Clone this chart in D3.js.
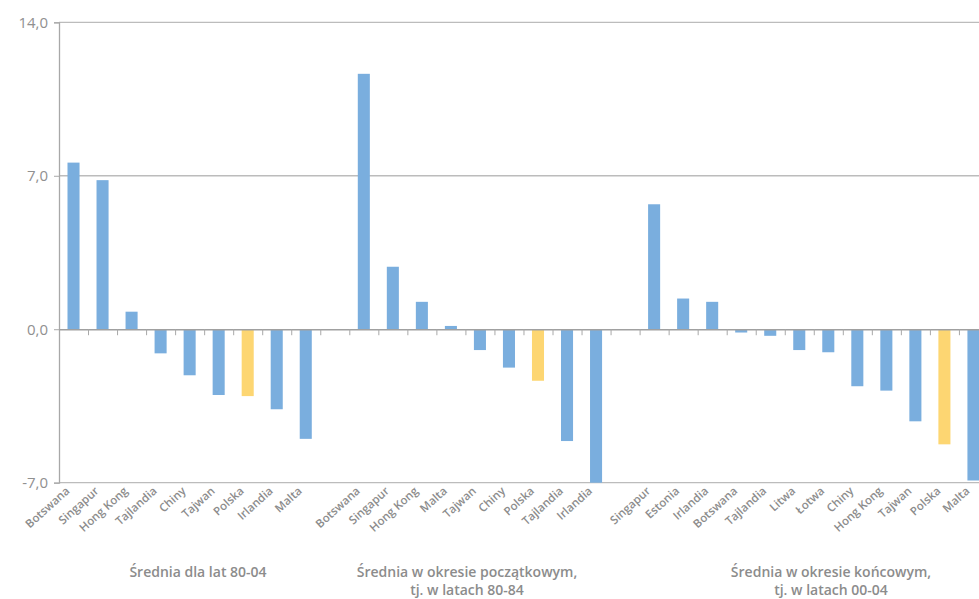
<!DOCTYPE html>
<html>
<head>
<meta charset="utf-8">
<script src="https://cdn.jsdelivr.net/npm/d3@7"></script>
<style>
    body { margin: 0; background: #fff; }
    text { font-family: "Open Sans", sans-serif; fill: #8c8c8c; }
</style>
</head>
<body>
<svg id="root" width="979" height="599"></svg>
<script>
// Średnia dla lat 80-04
const countriesAll = ["Botswana", "Singapur", "Hong Kong", "Tajlandia", "Chiny", "Tajwan", "Polska", "Irlandia", "Malta"];
const valuesAll = [7.6, 6.8, 0.8, -1.1, -2.1, -3.0, -3.05, -3.65, -5.0];

// Średnia w okresie początkowym (80-84)
const countriesStart = ["Botswana", "Singapur", "Hong Kong", "Malta", "Tajwan", "Chiny", "Polska", "Tajlandia", "Irlandia"];
const valuesStart = [11.65, 2.85, 1.25, 0.15, -0.95, -1.75, -2.35, -5.1, -7.0];

// Średnia w okresie końcowym (00-04)
const countriesEnd = ["Singapur", "Estonia", "Irlandia", "Botswana", "Tajlandia", "Litwa", "Łotwa", "Chiny", "Hong Kong", "Tajwan", "Polska", "Malta"];
const valuesEnd = [5.7, 1.4, 1.25, -0.15, -0.3, -0.95, -1.05, -2.6, -2.8, -4.2, -5.25, -6.9];

const groupTitles = [
    ["Średnia dla lat 80-04"],
    ["Średnia w okresie początkowym,", "tj. w latach 80-84"],
    ["Średnia w okresie końcowym,", "tj. w latach 00-04"],
];

const yTicks = [14, 7, 0, -7];
const highlight = "Polska";

const main = () => {
    const svg = d3.select("#root");

    const groups = [
        { countries: countriesAll, values: valuesAll },
        { countries: countriesStart, values: valuesStart },
        { countries: countriesEnd, values: valuesEnd },
    ];

    // flatten into slots, one empty slot between groups
    const data = [];
    const slotIds = [];
    groups.forEach((g, gi) => {
        g.countries.forEach((c, i) => {
            const id = gi + "-" + i;
            slotIds.push(id);
            data.push({ id, group: gi, name: c, value: g.values[i] });
        });
        if (gi < groups.length - 1) slotIds.push("gap" + gi);
    });

    const left = 59;
    const step = 29.03;
    const right = left + step * slotIds.length;

    const x = d3.scaleBand()
        .domain(slotIds)
        .range([left, right])
        .paddingInner(0.585)
        .paddingOuter(0.2925);

    const y = d3.scaleLinear()
        .domain([-7, 14])
        .range([482.7, 22.3]);

    // grid
    svg.append("g")
        .selectAll("line")
        .data(yTicks.filter((d) => d !== 0))
        .join("line")
        .attr("x1", left)
        .attr("x2", 979)
        .attr("y1", (d) => y(d))
        .attr("y2", (d) => y(d))
        .attr("stroke", "#bcbcbc")
        .attr("stroke-width", 1.3);

    // y axis
    const yAxis = d3.axisLeft(y)
        .tickValues(yTicks)
        .tickSize(5)
        .tickPadding(6)
        .tickFormat((d) => d3.format(".1f")(d).replace(".", ",").replace("−", "-"));

    svg.append("g")
        .attr("transform", `translate(${left},0)`)
        .call(yAxis)
        .call((g) => g.select(".domain").attr("stroke", "#a8a8a8").attr("stroke-width", 1.3))
        .call((g) => g.selectAll(".tick line").attr("stroke", "#a8a8a8"))
        .call((g) => g.selectAll("text")
            .attr("fill", null)
            .style("fill", "#909090")
            .style("font-size", "15px")
            .style("font-family", "'Open Sans', sans-serif"));

    // bars
    svg.append("g")
        .selectAll("rect")
        .data(data)
        .join("rect")
        .attr("x", (d) => x(d.id))
        .attr("width", x.bandwidth())
        .attr("y", (d) => y(Math.max(0, d.value)))
        .attr("height", (d) => Math.abs(y(d.value) - y(0)))
        .attr("fill", (d) => d.name === highlight ? "#fdd672" : "#7aaede");

    // zero line with ticks between categories
    const slotScale = d3.scaleLinear()
        .domain([0, slotIds.length])
        .range([left, right]);
    const zeroAxis = d3.axisBottom(slotScale)
        .tickValues(d3.range(1, slotIds.length))
        .tickSize(6)
        .tickSizeOuter(0)
        .tickFormat("");

    svg.append("g")
        .attr("transform", `translate(0,${y(0)})`)
        .call(zeroAxis)
        .call((g) => g.select(".domain").attr("stroke", "#a0a0a0").attr("stroke-width", 1.4))
        .call((g) => g.selectAll(".tick line").attr("stroke", "#a8a8a8"));

    // category labels
    svg.append("g")
        .selectAll("text")
        .data(data)
        .join("text")
        .attr("transform", (d) => `translate(${x(d.id) + x.bandwidth() / 2 - 3},${492}) rotate(-42)`)
        .attr("text-anchor", "end")
        .style("font-size", "11.5px")
        .style("font-weight", 600)
        .text((d) => d.name);

    // group titles, one text per line
    const titleCenters = [198, 467, 831];
    groupTitles.forEach((lines, gi) => {
        svg.append("g")
            .selectAll("text")
            .data(lines)
            .join("text")
            .attr("x", titleCenters[gi])
            .attr("y", (d, i) => 577 + i * 18)
            .attr("text-anchor", "middle")
            .style("font-size", "14px")
            .style("font-weight", 600)
            .text((d) => d);
    });
};

main();
</script>
</body>
</html>
